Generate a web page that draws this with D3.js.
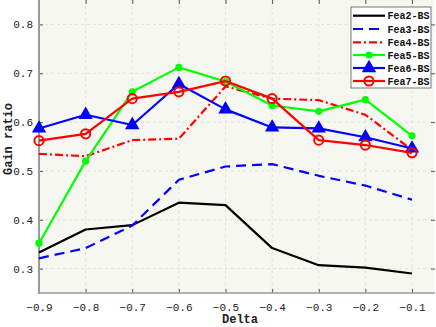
<!DOCTYPE html>
<html><head><meta charset="utf-8">
<script src="https://cdn.jsdelivr.net/npm/d3@7/dist/d3.min.js"></script>
<style>
html,body{margin:0;padding:0;background:#fff;}
svg{display:block;}
</style></head>
<body>
<script>
const deltas = [-0.9,-0.8,-0.7,-0.6,-0.5,-0.4,-0.3,-0.2,-0.1];
const fea2 = [0.333,0.380,0.389,0.435,0.430,0.342,0.307,0.302,0.290];
const fea3 = [0.321,0.342,0.388,0.482,0.509,0.514,0.490,0.470,0.441];
const fea4 = [0.535,0.530,0.563,0.566,0.673,0.648,0.645,0.615,0.543];
const fea5 = [0.352,0.520,0.662,0.712,0.683,0.634,0.622,0.646,0.572];
const fea6 = [0.587,0.615,0.594,0.678,0.626,0.589,0.587,0.569,0.546];
const fea7 = [0.562,0.576,0.648,0.662,0.684,0.648,0.563,0.553,0.537];
const names = ["Fea2-BS","Fea3-BS","Fea4-BS","Fea5-BS","Fea6-BS","Fea7-BS"];
const xTicks = [-0.9,-0.8,-0.7,-0.6,-0.5,-0.4,-0.3,-0.2,-0.1];
const yTicks = [0.3,0.4,0.5,0.6,0.7,0.8];

const W=436,H=327;
const L=39,R=435,T=0,B=293;
const svg=d3.select("body").append("svg").attr("width",W).attr("height",H);
const x=d3.scaleLinear().domain([-0.9,-0.1]).range([L,412]);
const y=d3.scaleLinear().domain([0.25,0.85]).range([B,T]);

const series=[
 {name:names[0],v:fea2,color:"#000000",dash:null,marker:null},
 {name:names[1],v:fea3,color:"#0000ff",dash:"10,6",marker:null},
 {name:names[2],v:fea4,color:"#ff0000",dash:"8,3,2,3",marker:null},
 {name:names[3],v:fea5,color:"#00ff00",dash:null,marker:"dot"},
 {name:names[4],v:fea6,color:"#0000ff",dash:null,marker:"tri"},
 {name:names[5],v:fea7,color:"#ff0000",dash:null,marker:"ring"}
];

svg.append("rect").attr("x",L).attr("y",T).attr("width",R-L).attr("height",B-T).attr("fill","#f7f7f2");

const grid=svg.append("g");
xTicks.forEach(t=>grid.append("line").attr("x1",x(t)).attr("x2",x(t)).attr("y1",T).attr("y2",B)
  .attr("stroke","#dcdcd8").attr("stroke-width",0.8).attr("stroke-dasharray","3,3"));
yTicks.forEach(t=>grid.append("line").attr("x1",L).attr("x2",R).attr("y1",y(t)).attr("y2",y(t))
  .attr("stroke","#dcdcd8").attr("stroke-width",0.8).attr("stroke-dasharray","3,3"));

const font="'Liberation Mono','DejaVu Sans Mono',monospace";
const xAxisB=d3.axisBottom(x).tickValues(xTicks).tickSize(-4).tickPadding(10).tickFormat(d3.format(".1f"));
const gxb=svg.append("g").attr("transform",`translate(0,${B})`).call(xAxisB);
const xAxisT=d3.axisTop(x).tickValues(xTicks).tickSize(-4).tickFormat("");
const gxt=svg.append("g").attr("transform",`translate(0,${T})`).call(xAxisT);
const yAxisL=d3.axisLeft(y).tickValues(yTicks).tickSize(-4).tickPadding(6).tickFormat(d3.format(".1f"));
const gyl=svg.append("g").attr("transform",`translate(${L},0)`).call(yAxisL);
const yAxisR=d3.axisRight(y).tickValues(yTicks).tickSize(-4).tickFormat("");
const gyr=svg.append("g").attr("transform",`translate(${R},0)`).call(yAxisR);
[gxb,gxt,gyl,gyr].forEach(g=>{
  g.select(".domain").remove();
  g.selectAll(".tick line").attr("stroke","#555").attr("stroke-width",1);
  g.selectAll("text").attr("font-family",font).attr("font-size",11).attr("fill","#222");
});
svg.append("line").attr("x1",L).attr("x2",L).attr("y1",T).attr("y2",B+1).attr("stroke","#9a9a9a").attr("stroke-width",2);
svg.append("line").attr("x1",L).attr("x2",R).attr("y1",B).attr("y2",B).attr("stroke","#9a9a9a").attr("stroke-width",1.5);

const line=d3.line().x((d,i)=>x(deltas[i])).y(d=>y(d));
const tri=d3.symbol().type(d3.symbolTriangle).size(60);
series.forEach(s=>{
  const p=svg.append("path").attr("d",line(s.v)).attr("fill","none").attr("stroke",s.color)
    .attr("stroke-width",2.2).attr("stroke-linejoin","round");
  if(s.dash) p.attr("stroke-dasharray",s.dash);
  const g=svg.append("g");
  s.v.forEach((v,i)=>{
    const cx=x(deltas[i]),cy=y(v);
    if(s.marker==="dot") g.append("circle").attr("cx",cx).attr("cy",cy).attr("r",3.6).attr("fill",s.color);
    if(s.marker==="tri") g.append("path").attr("d",tri()).attr("transform",`translate(${cx},${cy})`).attr("fill",s.color).attr("stroke",s.color).attr("stroke-width",1.5);
    if(s.marker==="ring") g.append("circle").attr("cx",cx).attr("cy",cy).attr("r",4.6).attr("fill","none").attr("stroke",s.color).attr("stroke-width",2);
  });
});

svg.append("text").attr("x",240).attr("y",323).attr("text-anchor","middle")
  .attr("font-family",font).attr("font-weight","bold").attr("font-size",12).attr("fill","#222").text("Delta");
svg.append("text").attr("transform","translate(12,139) rotate(-90)").attr("text-anchor","middle")
  .attr("font-family",font).attr("font-weight","bold").attr("font-size",12).attr("fill","#222").text("Gain ratio");

const lg=svg.append("g");
lg.append("rect").attr("x",351).attr("y",7).attr("width",80).attr("height",81)
  .attr("fill","#ffffff").attr("stroke","#777").attr("stroke-width",1);
const ly=[15.7,29,42.3,55,68,81];
series.forEach((s,i)=>{
  const yy=ly[i];
  const l=lg.append("line").attr("x1",353).attr("x2",385).attr("y1",yy).attr("y2",yy)
    .attr("stroke",s.color).attr("stroke-width",2.2);
  if(s.dash) l.attr("stroke-dasharray",s.dash);
  const cx=369;
  if(s.marker==="dot") lg.append("circle").attr("cx",cx).attr("cy",yy).attr("r",3.6).attr("fill",s.color);
  if(s.marker==="tri") lg.append("path").attr("d",tri()).attr("transform",`translate(${cx},${yy})`).attr("fill",s.color).attr("stroke",s.color).attr("stroke-width",1.5);
  if(s.marker==="ring") lg.append("circle").attr("cx",cx).attr("cy",yy).attr("r",4.6).attr("fill","none").attr("stroke",s.color).attr("stroke-width",2);
  lg.append("text").attr("x",387.5).attr("y",yy+3.5).attr("font-family",font).attr("font-weight","bold")
    .attr("font-size",10).attr("fill","#111").text(s.name);
});
</script>
</body></html>
